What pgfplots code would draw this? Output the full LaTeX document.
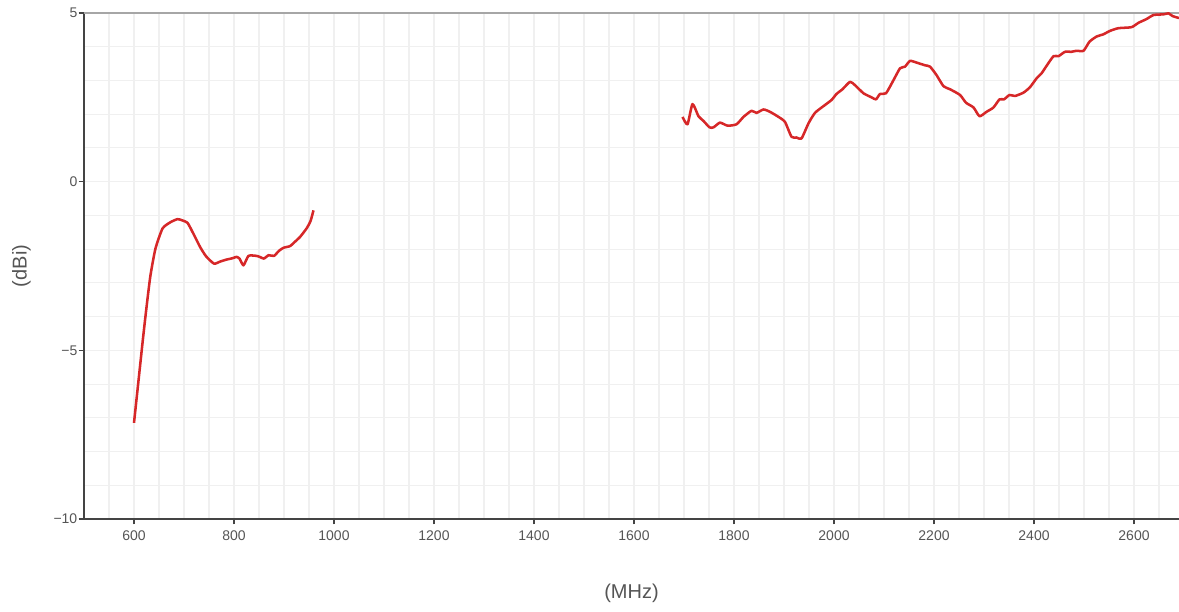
\documentclass[border=0pt]{standalone}
\usepackage{fontspec}
\setmainfont{Liberation Sans}
\usepackage{pgfplots}
\pgfplotsset{compat=1.18}
\definecolor{trace}{HTML}{D62728}
\definecolor{tickgray}{HTML}{444444}
\definecolor{labelgray}{HTML}{555555}
\definecolor{gridgray}{HTML}{F0F0F0}
\begin{document}
\begin{tikzpicture}
\begin{axis}[
  scale only axis,
  width=821.25pt, height=379.5pt,
  xmin=500, xmax=2690, ymin=-10, ymax=5,
  axis x line*=bottom, axis y line*=left,
  axis line style={tickgray, line width=0.9pt},
  xtick={600,800,...,2600},
  ytick={-10,-5,0,5},
  yticklabels={−10,−5,0,5},
  minor xtick={550,600,...,2650},
  minor ytick={-9,-8,...,4},
  grid=minor,
  minor grid style={gridgray, line width=0.8pt},
  tick align=outside,
  major tick length=4pt,
  minor tick length=0pt,
  tick style={tickgray, line width=0.8pt},
  xtick pos=bottom, ytick pos=left,
  /pgf/number format/assume math mode=true,
  /pgf/number format/1000 sep={},
  ticklabel style={font=\fontsize{10.5}{12}\selectfont, text=labelgray},
  xticklabel style={yshift=-1pt},
  yticklabel style={xshift=2.5pt},
  xlabel={(MHz)}, ylabel={(dBi)},
  label style={font=\fontsize{15}{18}\selectfont, text=labelgray},
  xlabel style={at={(axis description cs:0.5,0)}, anchor=center, yshift=-55.5pt},
  ylabel style={at={(axis description cs:0,0.5)}, anchor=center, rotate=0, yshift=47pt},
  clip=true,
]
\draw[gray!70, line width=0.9pt] (rel axis cs:0,1) -- (rel axis cs:1,1);
% lower band
\addplot[trace, line width=1.9pt, line join=round, smooth, tension=0.35] coordinates {
(600,-7.15) (609,-5.9) (618.7,-4.55) (626,-3.6) (633,-2.77) (643,-1.98)
(657,-1.39) (672,-1.21) (687,-1.11) (697,-1.15) (707,-1.22) (717,-1.49)
(732,-1.93) (744,-2.21) (760,-2.43) (772,-2.37) (785,-2.31) (797,-2.27)
(805,-2.23) (811,-2.28) (819,-2.48) (829,-2.20) (845,-2.20) (853,-2.24)
(860,-2.28) (869,-2.18) (880,-2.20) (890,-2.05) (899,-1.96) (912,-1.91)
(922,-1.78) (932,-1.64) (945,-1.39) (953,-1.17) (959,-0.85)
};
% upper band
\addplot[trace, line width=1.9pt, line join=round, smooth, tension=0.35] coordinates {
(1697,1.92) (1707,1.70) (1717,2.30) (1729,1.94) (1739,1.80) (1751,1.61)
(1759,1.61) (1772,1.75) (1787,1.66) (1805,1.70) (1819,1.92) (1835,2.10)
(1845,2.04) (1859,2.14) (1872,2.07) (1889,1.92) (1902,1.77) (1915,1.33)
(1925,1.31) (1935,1.28) (1949,1.73) (1962,2.04) (1979,2.24) (1995,2.42)
(2005,2.60) (2017,2.74) (2032,2.96) (2042,2.86) (2059,2.62) (2075,2.50)
(2084,2.44) (2092,2.60) (2104,2.62) (2119,3.01) (2132,3.36) (2142,3.41)
(2152,3.58) (2165,3.53) (2182,3.45) (2192,3.41) (2205,3.16) (2219,2.83)
(2232,2.74) (2252,2.57) (2264,2.34) (2279,2.20) (2291,1.94) (2305,2.07)
(2319,2.20) (2331,2.44) (2340,2.44) (2351,2.57) (2362,2.54) (2379,2.64)
(2392,2.80) (2405,3.06) (2415,3.21) (2425,3.43) (2439,3.72) (2449,3.72)
(2462,3.85) (2475,3.85) (2485,3.88) (2499,3.88) (2511,4.15) (2525,4.30)
(2539,4.37) (2552,4.47) (2569,4.55) (2595,4.58) (2609,4.71) (2625,4.82)
(2639,4.94) (2659,4.96) (2669,4.99) (2677,4.91) (2690,4.85)
};
\end{axis}
\pgfresetboundingbox
\path[use as bounding box] (-63pt,-69pt) rectangle (821.25pt,389.25pt);
\end{tikzpicture}
\end{document}
